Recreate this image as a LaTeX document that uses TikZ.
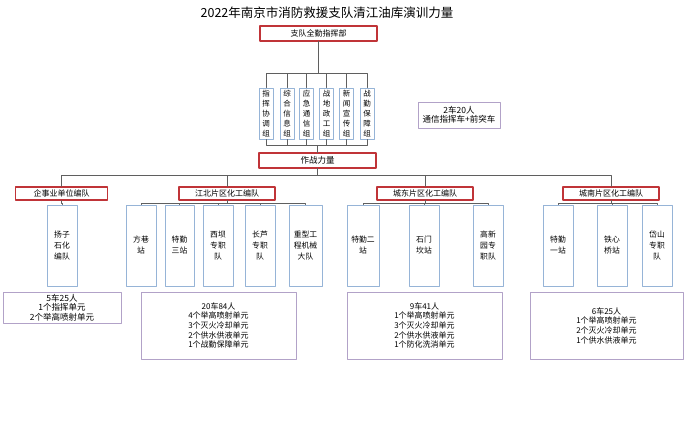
\documentclass[tikz,border=0pt]{standalone}
\usepackage{fontspec}
\setmainfont{Noto Sans CJK SC}
\usetikzlibrary{positioning}
\definecolor{hongkuang}{RGB}{192,52,56}
\definecolor{lankuang}{RGB}{150,180,215}
\definecolor{zikuang}{RGB}{178,162,200}
\definecolor{lianxian}{RGB}{95,95,95}

\begin{document}
\begin{tikzpicture}[
    x=1pt, y=-1pt,
    line cap=round,
    line join=round,
    zhihui/.style  = {draw=hongkuang, line width=1.1pt, fill=white, inner sep=0pt,
                      minimum height=15pt, font=\fontsize{8}{9}\selectfont},
    bianzu/.style  = {draw=lankuang, line width=0.8pt, fill=white, inner sep=0pt,
                      minimum width=14pt, minimum height=51pt, align=center,
                      font=\fontsize{7.5}{10}\selectfont},
    danwei/.style  = {draw=lankuang, line width=0.8pt, fill=white, inner sep=0pt,
                      minimum height=81pt, align=center,
                      font=\fontsize{7.8}{11}\selectfont},
    tongji/.style  = {draw=zikuang, line width=0.8pt, fill=white, inner sep=0pt,
                      align=center, font=\fontsize{8}{9.7}\selectfont},
    lian/.style    = {draw=lianxian, line width=0.6pt}
]
\useasboundingbox (0,0) rectangle (688,423);

% ---- titolo ----
\node[font=\fontsize{12.5}{14}\selectfont] (biaoti) at (327,13)
    {2022年南京市消防救援支队清江油库演训力量};

% ---- comando ----
\node[zhihui, minimum width=117pt] (zhd) at (318.5,33.5) {支队全勤指挥部};
\node[zhihui, minimum width=117pt, font=\fontsize{8.5}{9}\selectfont] (zzll) at (317.5,160.5) {作战力量};

% ---- sei gruppi ----
\foreach \nome/\x/\testo in {
    xt/266/{指\\挥\\协\\调\\组},
    zx/287/{综\\合\\信\\息\\组},
    tx/306.5/{应\\急\\通\\信\\组},
    zg/326.5/{战\\地\\政\\工\\组},
    xw/346.5/{新\\闻\\宣\\传\\组},
    bz/367/{战\\勤\\保\\障\\组}}{
    \node[bianzu] (\nome) at (\x,113.5) {\testo};
    \draw[lian] (zhd.south) -- ++(0,31.5) -| (\nome.north);
    \draw[lian] (\nome.south) -- ++(0,6) -| (zzll.north);
}

\node[tongji, minimum width=82pt, minimum height=26pt,
      font=\fontsize{8.5}{9.5}\selectfont] (tongxin) at (459,115)
    {2车20人\\通信指挥车+前突车};

% ---- quattro formazioni ----
\foreach \nome/\x/\w/\testo in {
    qsy/61.5/92/企事业单位编队,
    jb/227/96/江北片区化工编队,
    cd/425/96/城东片区化工编队,
    cn/611/96/城南片区化工编队}{
    \node[zhihui, minimum width=\w pt, minimum height=13pt] (\nome) at (\x,193.5) {\testo};
    \draw[lian] (zzll.south) -- ++(0,7) -| (\nome.north);
}

% ---- unita ----
\foreach \nome/\capo/\x/\w/\testo in {
    yz/qsy/62/30/{扬子\\石化\\编队},
    fx/jb/141/30/{方巷\\站},
    ts/jb/179.5/29/{特勤\\三站},
    xb/jb/218/30/{西坝\\专职\\队},
    cl/jb/260/30/{长芦\\专职\\队},
    zx/jb/305.5/33/{重型工\\程机械\\大队},
    te/cd/363/32/{特勤二\\站},
    sm/cd/424/30/{石门\\坎站},
    gx/cd/488/30/{高新\\园专\\职队},
    ty/cn/558/30/{特勤\\一站},
    txq/cn/612/30/{铁心\\桥站},
    ds/cn/657/30/{岱山\\专职\\队}}{
    \node[danwei, minimum width=\w pt] (\nome) at (\x,245.5) {\testo};
    \draw[lian] (\capo.south) -- ++(0,2.5) -| (\nome.north);
}

% ---- riepiloghi ----
\node[tongji, minimum width=118pt, minimum height=31pt,
      font=\fontsize{8.5}{9.5}\selectfont] (tj1) at (62,307.5)
    {5车25人\\1个指挥单元\\2个举高喷射单元};
\node[tongji, minimum width=155pt, minimum height=67pt] (tj2) at (218.5,325.5)
    {20车84人\\4个举高喷射单元\\3个灭火冷却单元\\2个供水供液单元\\1个战勤保障单元};
\node[tongji, minimum width=155pt, minimum height=67pt] (tj3) at (424.5,325.5)
    {9车41人\\1个举高喷射单元\\3个灭火冷却单元\\2个供水供液单元\\1个防化洗消单元};
\node[tongji, minimum width=153pt, minimum height=67pt] (tj4) at (606.5,325.5)
    {6车25人\\1个举高喷射单元\\2个灭火冷却单元\\1个供水供液单元};

\end{tikzpicture}
\end{document}
